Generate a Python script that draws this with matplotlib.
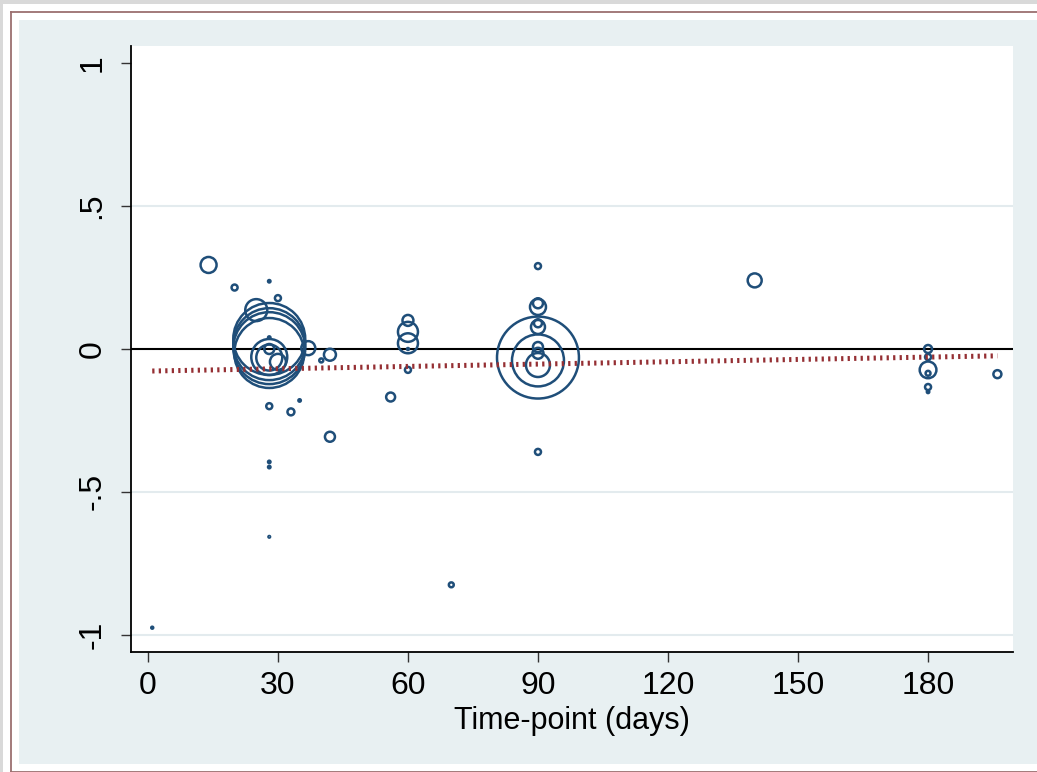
import matplotlib
matplotlib.use("Agg")
import matplotlib.pyplot as plt
from matplotlib.patches import Rectangle
from matplotlib.lines import Line2D
import numpy as np

# ---- data ----
time_days = [1, 14, 20, 25, 28, 30,
             28, 28, 28, 28, 28, 28, 28, 28, 30, 37, 42, 40,
             28, 33, 35, 42, 28, 28, 28,
             56, 60, 60, 60, 60, 60, 70,
             90, 90, 90, 90, 90, 90, 90, 90, 90, 90, 90,
             140,
             180, 180, 180, 180, 180, 180, 196]
effect = [-0.975, 0.294, 0.215, 0.136, 0.237, 0.178,
          0.035, 0.017, 0.003, -0.014, -0.028, -0.030, 0.000, 0.040, -0.045, 0.003, -0.020, -0.040,
          -0.200, -0.220, -0.180, -0.307, -0.395, -0.413, -0.657,
          -0.168, 0.100, 0.060, 0.020, 0.000, -0.073, -0.825,
          0.290, 0.160, 0.147, 0.090, 0.077, 0.007, -0.015, -0.030, -0.040, -0.056, -0.360,
          0.240,
          0.000, -0.028, -0.073, -0.085, -0.133, -0.150, -0.088]
weight = [1, 64, 9, 121, 1.5, 9,
          1296, 1296, 1296, 1225, 324, 169, 25, 1.5, 64, 49, 36, 4,
          9, 12, 1.5, 25, 1.5, 1.5, 0.7,
          20, 30, 100, 100, 1, 9, 6,
          9, 25, 64, 16, 49, 25, 30, 1681, 676, 144, 9,
          49,
          16, 9, 70, 6, 9, 1.5, 16]

fit_x = [1, 196]
fit_y = [-0.077, -0.024]

x_ticks = [0, 30, 60, 90, 120, 150, 180]
y_ticks = [-1, -0.5, 0, 0.5, 1]
y_ticklabels = ["-1", "-.5", "0", ".5", "1"]
grid_y = [-1, -0.5, 0.5]
x_label = "Time-point (days)"

# ---- figure ----
W, H = 1037, 772
fig = plt.figure(figsize=(W / 100, H / 100), dpi=100)
fig.patch.set_facecolor("#d9d9d9")

def px_rect(x0, y0, x1, y1, **kw):
    r = Rectangle((x0 / W, 1 - y1 / H), (x1 - x0) / W, (y1 - y0) / H,
                  transform=fig.transFigure, **kw)
    fig.patches.append(r)

def px_line(xs, ys, **kw):
    ln = Line2D([x / W for x in xs], [1 - y / H for y in ys],
                transform=fig.transFigure, **kw)
    fig.lines.append(ln)

px_rect(3, 4, W + 5, H + 5, facecolor="white", edgecolor="none", zorder=-10)
frame_kw = dict(color="#9b6f6f", lw=1.3, zorder=-9)
px_line([10.5, W + 5], [11.5, 11.5], **frame_kw)
px_line([10.5, 10.5], [11.5, 771.5], **frame_kw)
px_line([10.5, W + 5], [771.5, 771.5], **frame_kw)
px_rect(19, 20, W + 5, 764, facecolor="#e8f0f2", edgecolor="none", zorder=-8)

plt.rcParams["font.family"] = ["Liberation Sans", "DejaVu Sans"]

ax = fig.add_axes([131 / W, 1 - 652 / H, (1013 - 131) / W, (652 - 46) / H])
ax.set_facecolor("white")
ax.set_xlim(-3.9, 199.6)
ax.set_ylim(-1.06, 1.06)

for gy in grid_y:
    ax.axhline(gy, color="#e3ebee", lw=1.5, zorder=1)
ax.axhline(0, color="black", lw=1.5, zorder=2)

sizes = 2.07 * np.array(weight)
ax.scatter(time_days, effect, s=sizes, facecolors="none", edgecolors="#1f4e79",
           linewidths=1.8, zorder=3)

ax.plot(fit_x, fit_y, color="#952f33", lw=3.6, linestyle=(0, (0.45, 0.85)),
        solid_capstyle="butt", dash_capstyle="butt", zorder=4)

for s in ["top", "right"]:
    ax.spines[s].set_visible(False)
for s in ["left", "bottom"]:
    ax.spines[s].set_linewidth(1.3)
    ax.spines[s].set_color("black")

ax.set_xticks(x_ticks)
ax.set_yticks(y_ticks)
ax.set_yticklabels(y_ticklabels, rotation=90, va="center")
ax.tick_params(axis="both", length=7, width=1.0, labelsize=23, color="#333333")
ax.tick_params(axis="x", pad=7)
ax.tick_params(axis="y", pad=10)
ax.set_xlabel(x_label, fontsize=22, labelpad=3)

fig.savefig("out.png", dpi=100, facecolor=fig.get_facecolor())
